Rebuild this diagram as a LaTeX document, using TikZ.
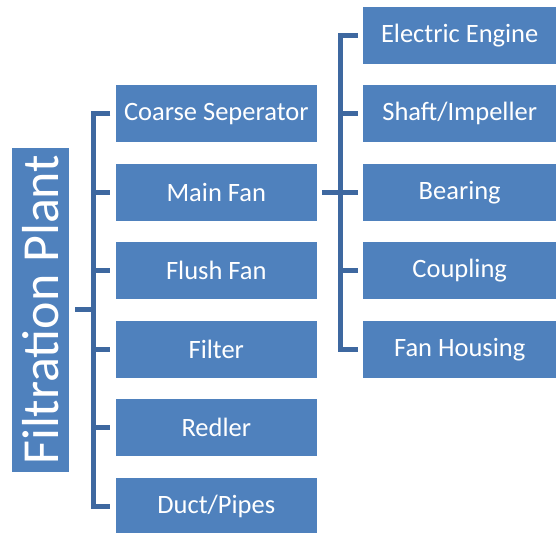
\documentclass[tikz,border=0pt]{standalone}
\usepackage{fontspec}
\setmainfont{Carlito}
\definecolor{boxblue}{RGB}{79,129,189}
\definecolor{linkblue}{RGB}{62,104,160}
\begin{document}
\begin{tikzpicture}[x=1pt,y=-1pt,
  box/.style={fill=boxblue, text=white, inner sep=0pt, minimum height=57pt, font=\fontsize{26.5}{30}\selectfont},
  midbox/.style={box, minimum width=200.7pt},
  rightbox/.style={box, minimum width=192.7pt},
  link/.style={draw=linkblue, line width=5pt, line join=miter}]
\useasboundingbox (0,0) rectangle (556,532);
\node[box, minimum width=57pt, minimum height=324pt, font=\fontsize{52}{58}\selectfont] (root) at (40.8,309.7) {\rotatebox{90}{Filtration Plant}};
\node[midbox] (coarse) at (216.3,113.7) {Coarse Seperator};
\node[midbox] (mainfan) at (216.3,192.2) {Main Fan};
\node[midbox] (flush) at (216.3,270.7) {Flush Fan};
\node[midbox] (filter) at (216.3,349.2) {Filter};
\node[midbox] (redler) at (216.3,427.7) {Redler};
\node[midbox] (duct) at (216.3,506.2) {Duct/Pipes};
\node[rightbox] (engine) at (459.7,35.2) {Electric Engine};
\node[rightbox] (shaft) at (459.7,113.7) {Shaft/Impeller};
\node[rightbox] (bearing) at (459.7,192.2) {Bearing};
\node[rightbox] (coupling) at (459.7,270.7) {Coupling};
\node[rightbox] (housing) at (459.7,349.2) {Fan Housing};
\coordinate (lbus) at (93,0);
\coordinate (rbus) at (340,0);
% left bracket
\draw[link] ([xshift=-5.3pt]coarse.west) -- (coarse.west -| lbus) -- (duct.west -| lbus) -- ([xshift=-5.3pt]duct.west);
\draw[link] ([xshift=5.7pt]root.east) -- (root.east -| lbus);
\foreach \n in {mainfan,flush,filter,redler}
  \draw[link] (\n.west -| lbus) -- ([xshift=-5.3pt]\n.west);
% right bracket
\draw[link] ([xshift=-5.6pt]engine.west) -- (engine.west -| rbus) -- (housing.west -| rbus) -- ([xshift=-5.6pt]housing.west);
\draw[link] ([xshift=5.3pt]mainfan.east) -- ([xshift=-5.6pt]bearing.west);
\foreach \n in {shaft,coupling}
  \draw[link] (\n.west -| rbus) -- ([xshift=-5.6pt]\n.west);
\end{tikzpicture}
\end{document}
